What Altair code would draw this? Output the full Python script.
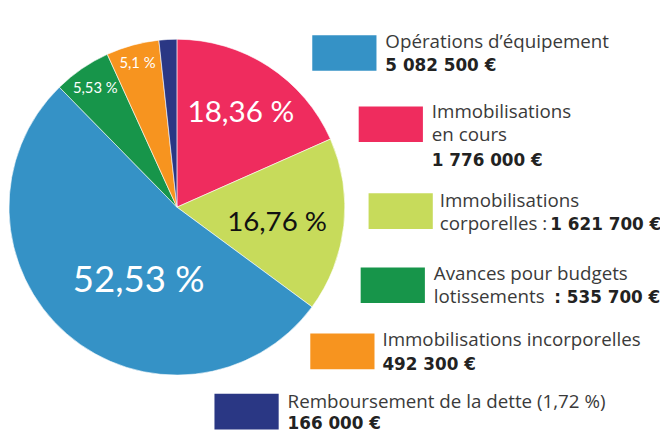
import altair as alt
import pandas as pd

# ---- data ----
categories = [
    "Immobilisations en cours",
    "Immobilisations corporelles",
    "Opérations d’équipement",
    "Avances pour budgets lotissements",
    "Immobilisations incorporelles",
    "Remboursement de la dette",
]
amounts = [1776000, 1621700, 5082500, 535700, 492300, 166000]
pct_labels = ["18,36 %", "16,76 %", "52,53 %", "5,53 %", "5,1 %", ""]
colors = ["#EF2C5E", "#C7DB5B", "#3592C6", "#17954A", "#F7941F", "#2A3784"]
total_label = "9 674 200 €"

# legend text lines: (category, text, bold)
legend_lines = [
    ("Opérations d’équipement", "Opérations d’équipement", False),
    ("Opérations d’équipement", "5 082 500 €", True),
    ("Immobilisations en cours", "Immobilisations", False),
    ("Immobilisations en cours", "en cours", False),
    ("Immobilisations en cours", "1 776 000 €", True),
    ("Immobilisations corporelles", "Immobilisations", False),
    ("Immobilisations corporelles", "corporelles :", False),
    ("Immobilisations corporelles", "1 621 700 €", True),
    ("Avances pour budgets lotissements", "Avances pour budgets", False),
    ("Avances pour budgets lotissements", "lotissements", False),
    ("Avances pour budgets lotissements", ": 535 700 €", True),
    ("Immobilisations incorporelles", "Immobilisations incorporelles", False),
    ("Immobilisations incorporelles", "492 300 €", True),
    ("Remboursement de la dette", "Remboursement de la dette (1,72 %)", False),
    ("Remboursement de la dette", "166 000 €", True),
]

# ---- layout (pixels) ----
CX, CY, R = 171, 199, 170
box_layout = {  # x1, y1 of each legend swatch (65 x 36)
    "Opérations d’équipement": (308, 25),
    "Immobilisations en cours": (355, 97),
    "Immobilisations corporelles": (365, 185),
    "Avances pour budgets lotissements": (357, 260),
    "Immobilisations incorporelles": (306, 327),
    "Remboursement de la dette": (209, 388),
}
line_layout = [  # x, baseline y for each legend line
    (382, 38), (382, 61),
    (429, 109), (429, 132), (429, 157),
    (437, 199), (437, 222), (549, 222),
    (431, 273), (431, 296), (553, 296),
    (379, 340), (379, 364),
    (283, 402), (283, 424),
]

pie_df = pd.DataFrame({"cat": categories, "amount": amounts,
                       "label": pct_labels, "idx": list(range(len(categories)))})
box_df = pd.DataFrame({
    "cat": list(box_layout.keys()),
    "x1": [v[0] for v in box_layout.values()],
    "x2": [v[0] + 65 for v in box_layout.values()],
    "y1": [v[1] for v in box_layout.values()],
    "y2": [v[1] + 36 for v in box_layout.values()],
})
text_df = pd.DataFrame({
    "cat": [l[0] for l in legend_lines],
    "text": [l[1] for l in legend_lines],
    "bold": [l[2] for l in legend_lines],
    "x": [p[0] for p in line_layout],
    "y": [p[1] for p in line_layout],
})

color_scale = alt.Scale(domain=categories, range=colors)
FONT = "Lato"
LEG_FONT = "Open Sans"
BOLD_FONT = "DejaVu Sans"

base = alt.Chart(pie_df).encode(
    theta=alt.Theta("amount:Q", stack=True),
    order=alt.Order("idx:Q"),
)

arcs = base.mark_arc(radius=R, stroke="white", strokeWidth=0.6).encode(
    x=alt.value(CX), y=alt.value(CY),
    color=alt.Color("cat:N", scale=color_scale, legend=None),
)


def pct_text(cat, radius, size, color, dx=0, dy=0):
    return base.mark_text(radius=radius, fontSize=size, font=FONT, color=color,
                          dx=dx, dy=dy, align="center", baseline="middle").encode(
        x=alt.value(CX), y=alt.value(CY),
        text=alt.condition(alt.datum.cat == cat, "label:N", alt.value("")),
    )


labels = [
    pct_text(categories[0], 115, 30, "white", 2, 1),
    pct_text(categories[1], 102, 28, "#111111", 0, 5),
    pct_text(categories[2], 82, 37, "white", 15, 13),
    pct_text(categories[3], 146, 15, "white"),
    pct_text(categories[4], 151, 15, "white"),
]

boxes = alt.Chart(box_df).mark_rect().encode(
    x=alt.X("x1:Q", scale=None, axis=None), x2="x2:Q",
    y=alt.Y("y1:Q", scale=None, axis=None), y2="y2:Q",
    color=alt.Color("cat:N", scale=color_scale, legend=None),
)

legend_normal = alt.Chart(text_df).transform_filter("!datum.bold").mark_text(
    align="left", baseline="alphabetic", fontSize=19, font=LEG_FONT, color="#3a3a3a"
).encode(x=alt.X("x:Q", scale=None, axis=None), y=alt.Y("y:Q", scale=None, axis=None),
         text="text:N")

legend_bold = alt.Chart(text_df).transform_filter("datum.bold").mark_text(
    align="left", baseline="alphabetic", fontSize=17, font=BOLD_FONT, fontWeight="bold",
    color="#222222"
).encode(x=alt.X("x:Q", scale=None, axis=None), y=alt.Y("y:Q", scale=None, axis=None),
         text="text:N")

title_df = pd.DataFrame({"t": [total_label]})
title = alt.Chart(title_df).mark_text(
    align="left", baseline="bottom", fontSize=32, font=FONT, fontWeight="bold",
    color="#111111"
).encode(x=alt.value(42), y=alt.value(-3), text="t:N")

chart = alt.layer(arcs, *labels, boxes, legend_normal, legend_bold, title).properties(
    width=660, height=424,
    autosize=alt.AutoSizeParams(type="none"),
    padding=0,
).configure_view(stroke=None)

chart.save("out.html", embed_options={"renderer": "svg", "actions": False})
